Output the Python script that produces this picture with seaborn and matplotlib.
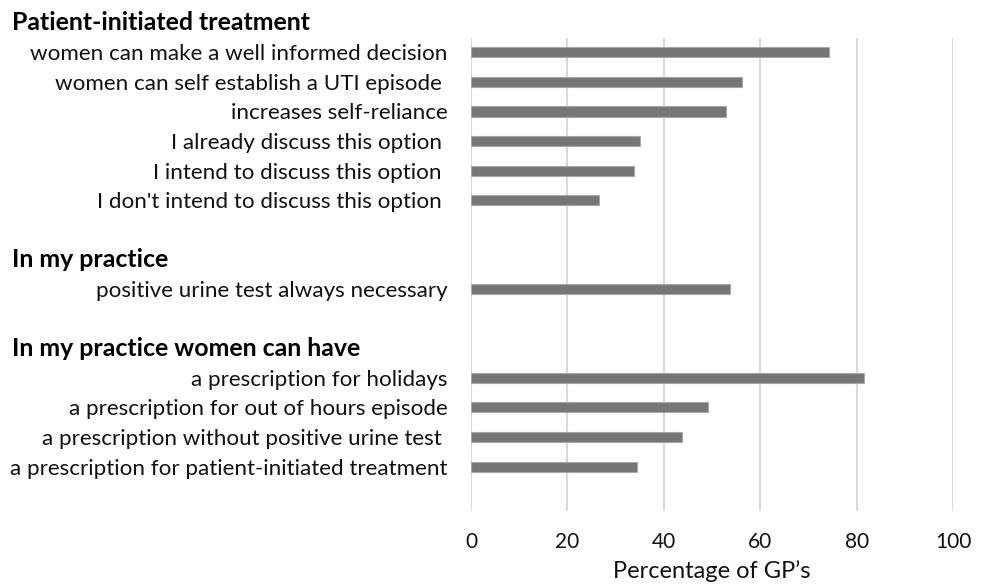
import numpy as np
import pandas as pd
import matplotlib as mpl
mpl.use("Agg")
import matplotlib.pyplot as plt
import matplotlib.transforms as mtransforms
import seaborn as sns

# --- data ---
header_1 = "Patient-initiated treatment"
labels_1 = ["women can make a well informed decision",
            "women can self establish a UTI episode ",
            "increases self-reliance",
            "I already discuss this option ",
            "I intend to discuss this option ",
            "I don't intend to discuss this option "]
values_1 = [74.3, 56.3, 52.9, 35.0, 33.7, 26.5]

header_2 = "In my practice"
labels_2 = ["positive urine test always necessary"]
values_2 = [53.8]

header_3 = "In my practice women can have"
labels_3 = ["a prescription for holidays",
            "a prescription for out of hours episode",
            "a prescription without positive urine test ",
            "a prescription for patient-initiated treatment"]
values_3 = [81.4, 49.1, 43.8, 34.4]

x_ticks = [0, 20, 40, 60, 80, 100]
x_label = "Percentage of GP\u2019s"

groups = [(header_1, labels_1, values_1),
          (header_2, labels_2, values_2),
          (header_3, labels_3, values_3)]

# lay out rows: header, items, blank spacer
rows, headers = [], []
r = -1
for head, labs, vals in groups:
    headers.append((head, r))
    for i, (lab, v) in enumerate(zip(labs, vals)):
        rows.append({"pos": r + 1 + i, "label": lab, "value": v})
    r += len(labs) + 2
df = pd.DataFrame(rows)

sns.set_style("white")
plt.rcParams["font.family"] = ["Lato", "DejaVu Sans"]

fig = plt.figure(figsize=(9.84, 5.86), dpi=100)
ax = fig.add_axes([0.4787, 0.128, 0.49, 0.808])

sns.barplot(data=df, x="value", y="pos", orient="y", native_scale=True,
            width=0.34, color="#767676", saturation=1,
            edgecolor="#a8a8a8", linewidth=0.8, ax=ax)

ax.set_xlim(0, 100)
ax.set_ylim(r - 0.5, -0.5)
ax.set_xticks(x_ticks)
ax.set_yticks(df["pos"])
ax.set_yticklabels(df["label"], fontsize=16.1, color="#111111")
ax.tick_params(axis="y", length=0, pad=17)
ax.tick_params(axis="x", length=0, pad=15, labelsize=15, labelcolor="#111111")
ax.set_xlabel(x_label, fontsize=17, color="#111111", labelpad=6)
ax.set_ylabel("")
ax.xaxis.grid(True, color="#d9d9d9", linewidth=1.5)
ax.set_axisbelow(True)
for s in ax.spines.values():
    s.set_visible(False)

trans = mtransforms.blended_transform_factory(fig.transFigure, ax.transData)
for head, pos in headers:
    ax.text(0.012, pos, head, transform=trans, ha="left", va="center",
            fontsize=17.9, fontweight="bold", color="#000000", clip_on=False)

fig.savefig("out.png", dpi=100)
